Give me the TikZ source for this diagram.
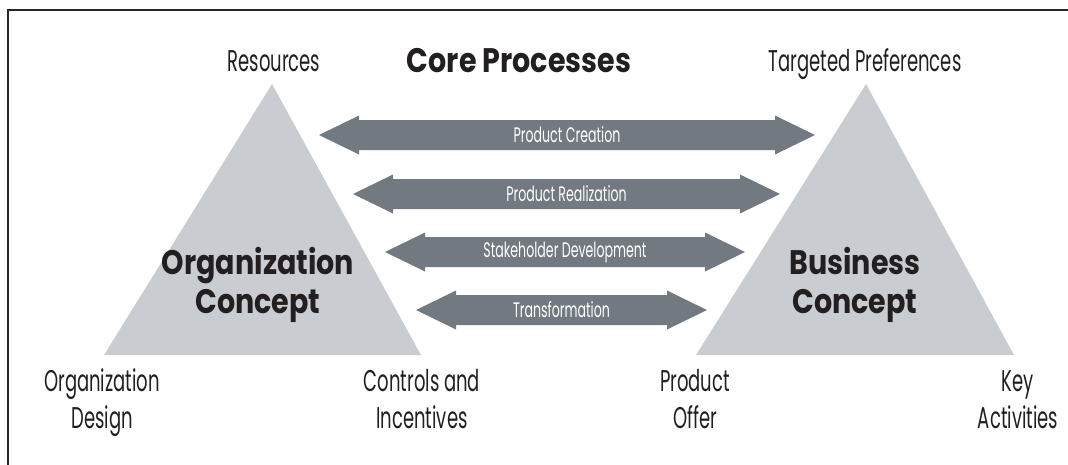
\documentclass[tikz,border=0pt]{standalone}
\usepackage{fontspec}
\usepackage{xcolor}
\usepackage{tikz}
\usetikzlibrary{calc}

\newfontfamily\lightsans{Poppins}[FakeStretch=0.6]
\newfontfamily\boldsans{Poppins}[FakeStretch=0.84]
\definecolor{tri}{HTML}{C9CCD1}
\definecolor{proc}{HTML}{737980}
\definecolor{ink}{HTML}{231F20}

% double headed process arrow: #1 left tip, #2 right tip, #3 name, #4 label
\newcommand{\procarrow}[4]{%
  \fill[proc] (#1) -- ++(40,-19.5) -- ++(0,4.5) -- ($(#2)+(-40,-15)$) -- ++(0,-4.5)
    -- (#2) -- ++(-40,19.5) -- ++(0,-4.5) -- ($(#1)+(40,15)$) -- ++(0,4.5) -- cycle;
  \node[proclabel] (#3) at ($(#1)!0.5!(#2)$) {#4};}

\begin{document}
\begin{tikzpicture}[x=1pt,y=-1pt,
    corner/.style={font=\lightsans\fontsize{30}{37}\selectfont,text=ink,align=center,anchor=base},
    concept/.style={font=\boldsans\bfseries\fontsize{34}{39}\selectfont,text=ink,align=center,anchor=base},
    proclabel/.style={font=\lightsans\fontsize{21}{24}\selectfont,text=white}]
  \useasboundingbox (0,0) rectangle (1068,464);
  \draw[line width=1.5pt,black!85] (8,470) |- (1075,10);

  % the two concepts
  \coordinate (oa) at (272,84);
  \coordinate (ol) at (104,355);
  \coordinate (or) at (421,355);
  \coordinate (ba) at (866,84);
  \coordinate (bl) at (696,355);
  \coordinate (br) at (1014,355);
  \fill[tri] (oa) -- (ol) -- (or) -- cycle;
  \fill[tri] (ba) -- (bl) -- (br) -- cycle;
  \node[concept] (org) at (258,313) {Organization\\Concept};
  \node[concept] (bus) at (855,313) {Business\\Concept};

  % core processes
  \node[concept] (core) at (519,72) {Core Processes};
  \coordinate (c1) at (319,135);  \coordinate (d1) at (815,135);
  \coordinate (c2) at (353,194);  \coordinate (d2) at (780,194);
  \coordinate (c3) at (385,252);  \coordinate (d3) at (745,252);
  \coordinate (c4) at (416,310);  \coordinate (d4) at (707,310);
  \procarrow{c1}{d1}{creation}{Product Creation}
  \procarrow{c2}{d2}{realization}{Product Realization}
  \procarrow{c3}{d3}{stakeholder}{Stakeholder Development}
  \procarrow{c4}{d4}{transform}{Transformation}

  % corner labels
  \node[corner] (res) at (274,71) {Resources};
  \node[corner] (pref) at (865,71) {Targeted Preferences};
  \node[corner] (design) at (102,428) {Organization\\Design};
  \node[corner] (ctrl) at (422,428) {Controls and\\Incentives};
  \node[corner] (offer) at (695,428) {Product\\Offer};
  \node[corner] (act) at (1018,428) {Key\\Activities};
\end{tikzpicture}
\end{document}
